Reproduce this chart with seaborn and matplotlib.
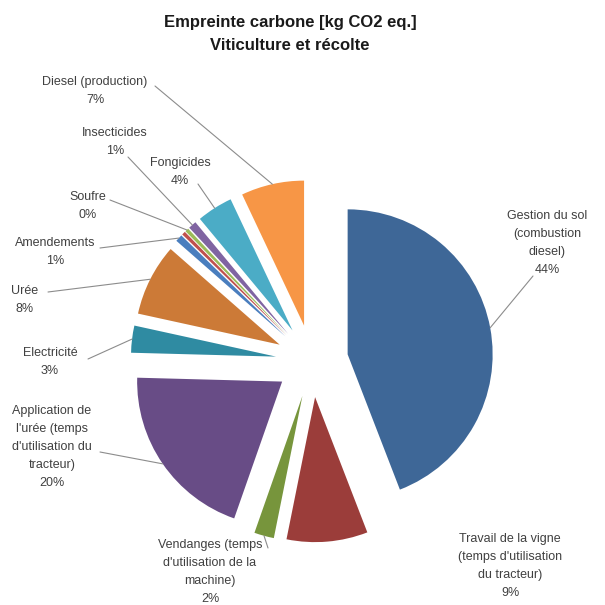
"""
Empreinte carbone - Viticulture et récolte (exploded pie)
"""
import numpy as np
import matplotlib
matplotlib.use("Agg")
import matplotlib.pyplot as plt
import seaborn as sns

sns.set_theme(style="white")
plt.rcParams['font.family'] = ['Liberation Sans', 'DejaVu Sans']

# Data (clockwise from 12 o'clock)
categories = ["Gestion du sol\n(combustion\ndiesel)",
              "Travail de la vigne\n(temps d'utilisation\ndu tracteur)",
              "Vendanges (temps\nd'utilisation de la\nmachine)",
              "Application de\nl'urée (temps\nd'utilisation du\ntracteur)",
              "Electricité",
              "Urée",
              "Amendements",
              "",
              "Soufre",
              "Insecticides",
              "Fongicides",
              "Diesel (production)"]
values = [44, 9, 2.2, 20, 3, 8, 0.8, 0.4, 0.4, 0.9, 4, 7]
pct_labels = ["44%", "9%", "2%", "20%", "3%", "8%", "1%", "", "0%", "1%", "4%", "7%"]
colors = ["#3E6797", "#9B3D3A", "#77953C", "#684C86", "#2F8BA2", "#CC7A37",
          "#4A7EBE", "#C0504D", "#9BBB59", "#8064A2", "#4BACC6", "#F79646"]

# layout: pie centre and scale in pixels (605x605 figure)
CX, CY, SCALE = 312, 361, 145
EXPLODE = 0.25

# label centre (px) and leader line start (px); None = no leader
label_pos = [(547, 243), (510, 566), (210, 572), (52, 447), (50, 362), (25, 300),
             (55, 252), None, (88, 206), (115, 142), (180, 172), (95, 91)]
leader_start = [(533, 276), None, (268, 548), (100, 452), (88, 359), (48, 292),
                (100, 248), None, (110, 200), (128, 157), (198, 184), (155, 86)]


def to_data(p):
    return ((p[0] - CX) / SCALE, (CY - p[1]) / SCALE)


fig = plt.figure(figsize=(6.05, 6.05), dpi=100)
ax = fig.add_axes([0, 0, 1, 1])

wedges, _ = ax.pie(values, colors=colors, startangle=90, counterclock=False,
                   explode=[EXPLODE] * len(values), radius=1,
                   wedgeprops=dict(linewidth=0))

ax.set_xlim(-CX / SCALE, (605 - CX) / SCALE)
ax.set_ylim(-(605 - CY) / SCALE, CY / SCALE)
ax.axis('off')

for w, cat, pct, lp, ls in zip(wedges, categories, pct_labels, label_pos, leader_start):
    if lp is None:
        continue
    x, y = to_data(lp)
    ax.text(x, y, cat + "\n" + pct, ha='center', va='center', fontsize=9,
            color='#404040', linespacing=1.65)
    if ls is not None:
        mid = np.deg2rad((w.theta1 + w.theta2) / 2)
        cx, cy = w.center
        px, py = cx + w.r * np.cos(mid), cy + w.r * np.sin(mid)
        sx, sy = to_data(ls)
        ax.plot([sx, px], [sy, py], color='#8C8C8C', linewidth=0.8)

tx, ty = to_data((290, 22))
ax.text(tx, ty, "Empreinte carbone [kg CO2 eq.]", ha='center', va='center',
        fontsize=12, fontweight='bold', color='#1A1A1A')
tx, ty = to_data((290, 45))
ax.text(tx, ty, "Viticulture et récolte", ha='center', va='center',
        fontsize=12, fontweight='bold', color='#1A1A1A')

plt.savefig('out.png', dpi=100)
plt.close()
